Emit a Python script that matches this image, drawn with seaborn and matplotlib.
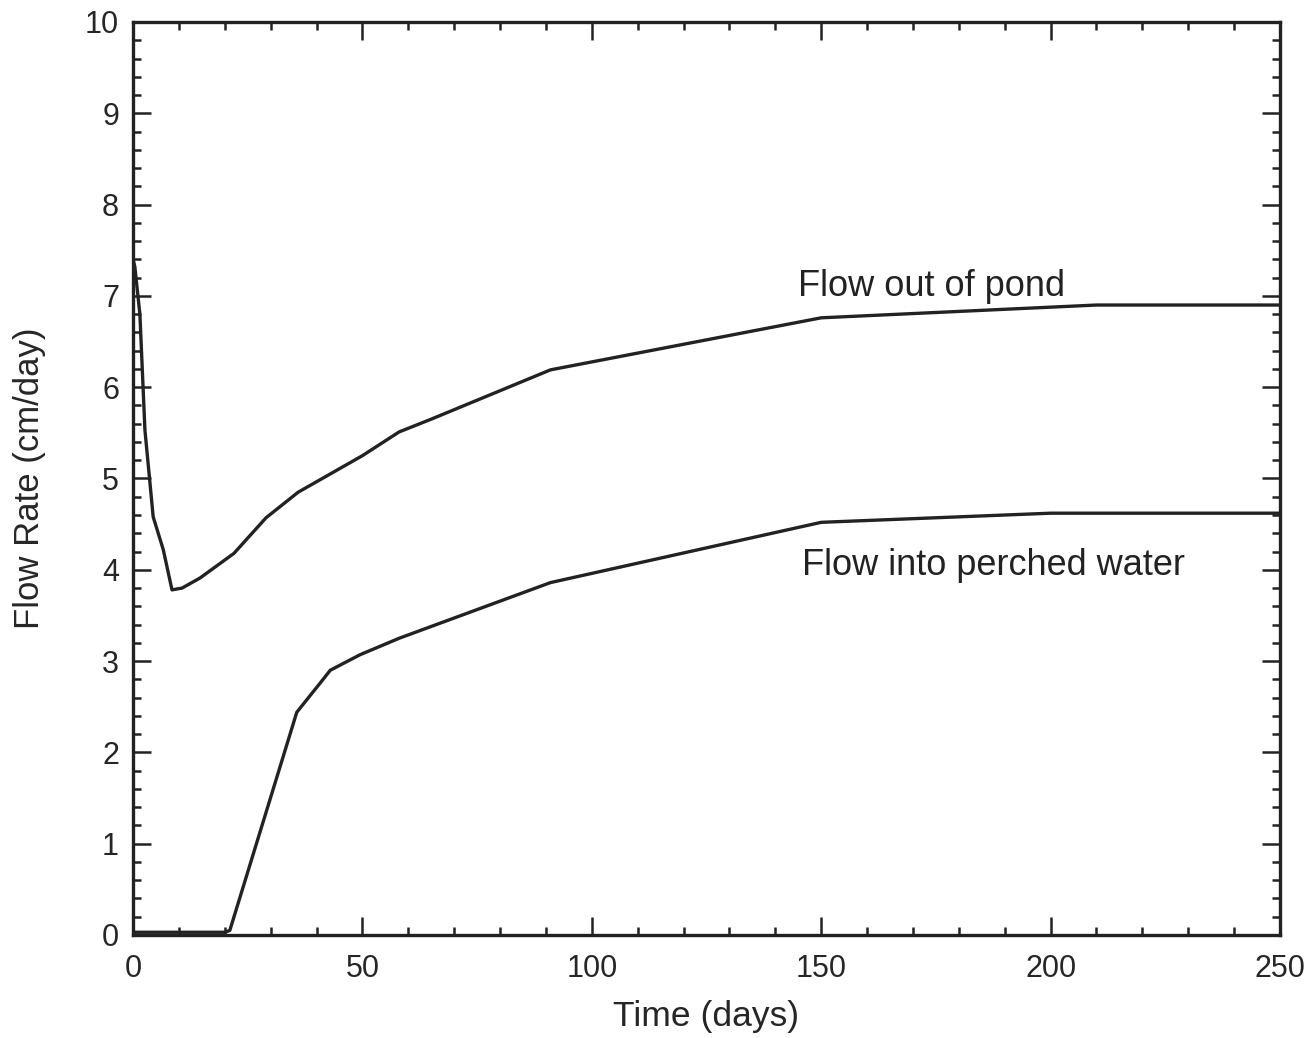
import pandas as pd
import matplotlib.pyplot as plt
import seaborn as sns
from matplotlib.ticker import MultipleLocator

# Flow out of pond
pond_days = [0, 0.4, 1.5, 2.6, 4.4, 6.6, 8.5, 10.7, 14.6, 22, 29, 36, 50, 58, 65, 91, 150, 210, 250]
pond_rate = [7.4, 7.32, 6.8, 5.53, 4.58, 4.22, 3.78, 3.80, 3.91, 4.18, 4.57, 4.85, 5.25, 5.51, 5.65, 6.19, 6.76, 6.9, 6.9]

# Flow into perched water
perched_days = [0, 10, 20, 21.1, 35.7, 40.8, 43, 49.5, 58, 91, 150, 200, 250]
perched_rate = [0.03, 0.03, 0.03, 0.05, 2.44, 2.76, 2.9, 3.07, 3.25, 3.86, 4.52, 4.62, 4.62]

pond = pd.DataFrame({'Time': pond_days, 'Rate': pond_rate})
perched = pd.DataFrame({'Time': perched_days, 'Rate': perched_rate})

sns.set_style("ticks")
plt.rcParams['font.family'] = ['Liberation Sans', 'DejaVu Sans']

fig = plt.figure(figsize=(13.14, 10.38), dpi=100)
ax = fig.add_axes([133 / 1314, 1 - 935 / 1038, (1280 - 133) / 1314, (935 - 22) / 1038])

sns.lineplot(data=pond, x='Time', y='Rate', color='#222222', linewidth=2.4, ax=ax)
sns.lineplot(data=perched, x='Time', y='Rate', color='#222222', linewidth=2.4, ax=ax)

# Curve labels
ax.text(145, 7.1, "Flow out of pond", fontsize=26, color='#222222', va='center')
ax.text(145.8, 4.05, "Flow into perched water", fontsize=26, color='#222222', va='center')

ax.set_xlim(0, 250)
ax.set_ylim(0, 10)
ax.xaxis.set_major_locator(MultipleLocator(50))
ax.xaxis.set_minor_locator(MultipleLocator(10))
ax.yaxis.set_major_locator(MultipleLocator(1))
ax.yaxis.set_minor_locator(MultipleLocator(0.2))
ax.tick_params(which='both', direction='in', top=True, right=True, color='#222222', width=1.8)
ax.tick_params(which='major', length=13, labelsize=22)
ax.tick_params(axis='x', which='major', pad=14)
ax.tick_params(axis='y', which='major', pad=10)
ax.tick_params(which='minor', length=6)
for s in ax.spines.values():
    s.set_linewidth(2.4)
    s.set_color('#222222')

# Axis labels
ax.set_xlabel("Time (days)", fontsize=25.5, labelpad=11)
ax.set_ylabel("Flow Rate (cm/day)", fontsize=25, labelpad=28)

plt.savefig("out.png", dpi=100)
